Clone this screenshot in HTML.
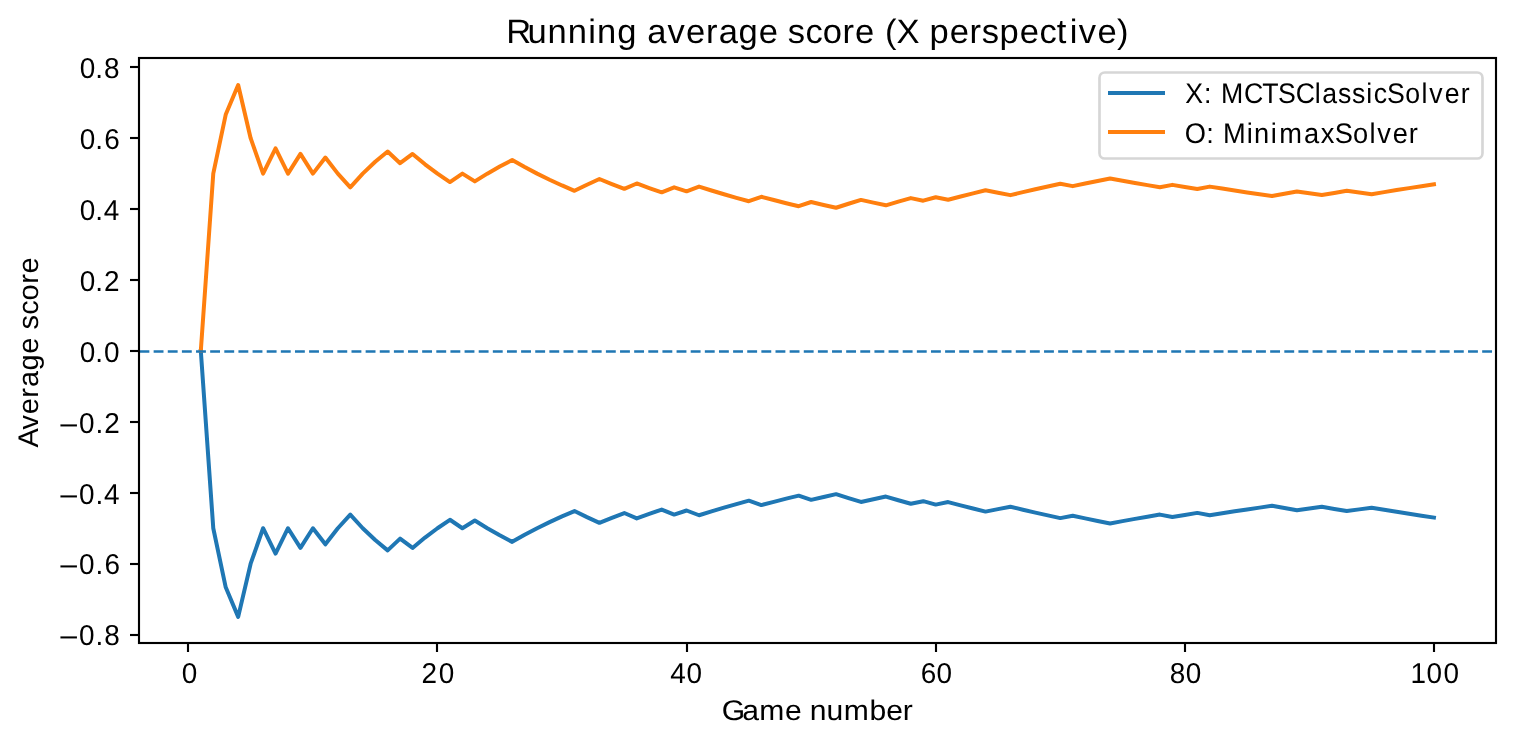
<!DOCTYPE html>
<html lang="en">
<head>
<meta charset="utf-8">
<title>Running average score (X perspective)</title>
<style>
html,body{margin:0;padding:0;background:#ffffff;}
body{position:relative;width:1514px;height:744px;overflow:hidden;font-family:"Liberation Sans",sans-serif;}
svg{display:block;position:absolute;left:0;top:0;will-change:transform;filter:opacity(0.9999);}
text{font-family:"Liberation Sans",sans-serif;fill:#000000;text-rendering:geometricPrecision;}
.spine{fill:none;stroke:#000000;stroke-width:2.13;stroke-linecap:square;stroke-linejoin:miter;}
.tick{stroke:#000000;stroke-width:2.13;fill:none;}
.series{fill:none;stroke-width:4;stroke-linejoin:round;stroke-linecap:square;}
</style>
</head>
<body>
<svg width="1514" height="744" viewBox="0 0 1514 744">
<rect x="0" y="0" width="1514" height="744" fill="#ffffff"/>
<defs><clipPath id="axclip"><rect x="139.16" y="58.40" width="1356.44" height="585.07"/></clipPath></defs>
<g clip-path="url(#axclip)">
<polyline class="series" stroke="#1f77b4" points="200.81,350.93 213.27,528.23 225.73,587.32 238.18,616.87 250.64,563.68 263.09,528.23 275.55,553.55 288.01,528.23 300.46,547.93 312.92,528.23 325.37,544.34 337.83,528.23 350.28,514.59 362.74,528.23 375.20,540.05 387.65,550.39 400.11,538.66 412.56,547.93 425.02,537.56 437.48,528.23 449.93,519.78 462.39,528.23 474.84,520.52 487.30,528.23 499.76,535.32 512.21,541.86 524.67,534.79 537.12,528.23 549.58,522.11 562.03,516.41 574.49,511.07 586.95,517.15 599.40,522.85 611.86,517.80 624.31,513.03 636.77,518.38 649.23,513.85 661.68,509.56 674.14,514.59 686.59,510.50 699.05,515.25 711.50,511.34 723.96,507.61 736.42,504.05 748.87,500.65 761.33,505.10 773.78,501.82 786.24,498.68 798.70,495.66 811.15,499.86 823.61,496.94 836.06,494.13 848.52,498.12 860.97,501.96 873.43,499.21 885.89,496.57 898.34,500.23 910.80,503.77 923.25,501.18 935.71,504.59 948.17,502.07 960.62,505.35 973.08,508.53 985.53,511.61 997.99,509.13 1010.44,506.74 1022.90,509.70 1035.36,512.58 1047.81,515.38 1060.27,518.10 1072.72,515.74 1085.18,518.38 1097.64,520.94 1110.09,523.43 1122.55,521.13 1135.00,518.90 1147.46,516.71 1159.91,514.59 1172.37,517.01 1184.83,514.93 1197.28,512.90 1209.74,515.25 1222.19,513.27 1234.65,511.34 1247.11,509.45 1259.56,507.61 1272.02,505.81 1284.47,508.08 1296.93,510.30 1309.39,508.53 1321.84,506.80 1334.30,508.96 1346.75,511.07 1359.21,509.37 1371.66,507.70 1384.12,509.76 1396.58,511.78 1409.03,513.75 1421.49,515.69 1433.94,517.59"/>
<polyline class="series" stroke="#ff7f0e" points="200.81,350.93 213.27,173.64 225.73,114.54 238.18,84.99 250.64,138.18 263.09,173.64 275.55,148.31 288.01,173.64 300.46,153.94 312.92,173.64 325.37,157.52 337.83,173.64 350.28,187.28 362.74,173.64 375.20,161.82 387.65,151.48 400.11,163.21 412.56,153.94 425.02,164.31 437.48,173.64 449.93,182.08 462.39,173.64 474.84,181.35 487.30,173.64 499.76,166.55 512.21,160.00 524.67,167.07 537.12,173.64 549.58,179.75 562.03,185.46 574.49,190.80 586.95,184.72 599.40,179.01 611.86,184.07 624.31,188.84 636.77,183.49 649.23,188.02 661.68,192.30 674.14,187.28 686.59,191.37 699.05,186.61 711.50,190.53 723.96,194.26 736.42,197.82 748.87,201.22 761.33,196.77 773.78,200.05 786.24,203.19 798.70,206.20 811.15,202.01 823.61,204.93 836.06,207.74 848.52,203.75 860.97,199.91 873.43,202.65 885.89,205.30 898.34,201.63 910.80,198.09 923.25,200.69 935.71,197.28 948.17,199.80 960.62,196.52 973.08,193.34 985.53,190.26 997.99,192.73 1010.44,195.13 1022.90,192.16 1035.36,189.28 1047.81,186.49 1060.27,183.77 1072.72,186.13 1085.18,183.49 1097.64,180.93 1110.09,178.43 1122.55,180.73 1135.00,182.97 1147.46,185.15 1159.91,187.28 1172.37,184.86 1184.83,186.94 1197.28,188.96 1209.74,186.61 1222.19,188.59 1234.65,190.53 1247.11,192.41 1259.56,194.26 1272.02,196.06 1284.47,193.79 1296.93,191.57 1309.39,193.34 1321.84,195.07 1334.30,192.91 1346.75,190.80 1359.21,192.50 1371.66,194.17 1384.12,192.11 1396.58,190.09 1409.03,188.11 1421.49,186.18 1433.94,184.28"/>
<line x1="139.50" y1="351.50" x2="1496.00" y2="351.50" stroke="#1f77b4" stroke-width="2.67" stroke-dasharray="9.8667 4.2667"/>
</g>
<g class="tick">
<line x1="188.00" y1="643.00" x2="188.00" y2="652.00"/>
<line x1="437.00" y1="643.00" x2="437.00" y2="652.00"/>
<line x1="687.00" y1="643.00" x2="687.00" y2="652.00"/>
<line x1="936.00" y1="643.00" x2="936.00" y2="652.00"/>
<line x1="1185.00" y1="643.00" x2="1185.00" y2="652.00"/>
<line x1="1434.00" y1="643.00" x2="1434.00" y2="652.00"/>
<line x1="130.00" y1="67.00" x2="139.00" y2="67.00"/>
<line x1="130.00" y1="138.00" x2="139.00" y2="138.00"/>
<line x1="130.00" y1="209.00" x2="139.00" y2="209.00"/>
<line x1="130.00" y1="280.00" x2="139.00" y2="280.00"/>
<line x1="130.00" y1="351.00" x2="139.00" y2="351.00"/>
<line x1="130.00" y1="422.00" x2="139.00" y2="422.00"/>
<line x1="130.00" y1="493.00" x2="139.00" y2="493.00"/>
<line x1="130.00" y1="564.00" x2="139.00" y2="564.00"/>
<line x1="130.00" y1="635.00" x2="139.00" y2="635.00"/>
</g>
<rect class="spine" x="139.00" y="58.00" width="1357.00" height="585.00"/>
<rect x="1099.50" y="72.50" width="383.00" height="86.00" rx="5.33" ry="5.33" fill="#ffffff" fill-opacity="0.8" stroke="#cccccc" stroke-opacity="0.8" stroke-width="2.67"/>
<line x1="1108.00" y1="93.00" x2="1165.00" y2="93.00" stroke="#1f77b4" stroke-width="4"/>
<line x1="1108.00" y1="132.00" x2="1165.00" y2="132.00" stroke="#ff7f0e" stroke-width="4"/>
<text transform="translate(505.88 43) scale(1.02 1)" font-size="33.9" y="0" x="0.38 21.17 40.85 60.71 80.86 89.26 109.15 128.43 138.51 158.53 176.64 196.08 208.6 228.15 247.96 266.79 276.41 293.64 310.56 329.91 342.32 361.15 371.67 382.97 404.78 415.39 435.09 454.54 466.6 484.02 503.72 523.05 540.2 552.92 561.59 579.94 599.06">Running average score (X perspective)</text>
<text transform="translate(722.5 720) scale(1.06 1)" font-size="28.4" y="0" x="-0.79 18.74 34.57 58.99 74.76 82.35 98.08 114.4 138.61 154.51 170.15">Game number</text>
<text transform="translate(38 447.2) rotate(-90) scale(1.02 1)" font-size="28.4" y="0" x="-0.3 17.29 32.33 48.49 59.02 75.14 91.64 107.23 115.51 129.93 143.88 160.13 170.19">Average score</text>
<text transform="translate(181.25 683) scale(0.97 1)" font-size="28.8" y="0" x="0.43">0</text>
<text transform="translate(421 683) scale(0.97 1)" font-size="28.8" y="0" x="0.43 18.22">20</text>
<text transform="translate(669.75 683) scale(0.97 1)" font-size="28.8" y="0" x="0.65 17.31">40</text>
<text transform="translate(920.12 683) scale(0.97 1)" font-size="28.8" y="0" x="0.72 16.8">60</text>
<text transform="translate(1169.25 683) scale(0.97 1)" font-size="28.8" y="0" x="0.43 16.93">80</text>
<text transform="translate(1410.12 683) scale(0.97 1)" font-size="28.8" y="0" x="0.49 16.8 34.45">100</text>
<text transform="translate(79.25 78) scale(0.97 1)" font-size="28.8" y="0" x="0.43 16.49 25.56">0.8</text>
<text transform="translate(79.25 149) scale(0.97 1)" font-size="28.8" y="0" x="0.43 16.49 25.85">0.6</text>
<text transform="translate(79.25 220) scale(0.97 1)" font-size="28.8" y="0" x="0.43 16.49 25.27">0.4</text>
<text transform="translate(79.25 291) scale(0.97 1)" font-size="28.8" y="0" x="0.43 16.49 25.56">0.2</text>
<text transform="translate(79.25 362) scale(0.97 1)" font-size="28.8" y="0" x="0.43 16.49 25.56">0.0</text>
<text transform="translate(57.17 433) scale(0.97 1)" font-size="28.8" y="0"><tspan x="1.5" dy="1.5" textLength="20.5" lengthAdjust="spacingAndGlyphs">−</tspan><tspan dy="-1.5" x="22.6 39.43 48.5">0.2</tspan></text>
<text transform="translate(57.17 504) scale(0.97 1)" font-size="28.8" y="0"><tspan x="1.5" dy="1.5" textLength="20.5" lengthAdjust="spacingAndGlyphs">−</tspan><tspan dy="-1.5" x="22.6 39.43 48.2">0.4</tspan></text>
<text transform="translate(57.17 574) scale(0.97 1)" font-size="28.8" y="0"><tspan x="1.5" dy="1.5" textLength="20.5" lengthAdjust="spacingAndGlyphs">−</tspan><tspan dy="-1.5" x="22.6 39.43 48.79">0.6</tspan></text>
<text transform="translate(57.17 645) scale(0.97 1)" font-size="28.8" y="0"><tspan x="1.5" dy="1.5" textLength="20.5" lengthAdjust="spacingAndGlyphs">−</tspan><tspan dy="-1.5" x="22.6 39.43 48.5">0.8</tspan></text>
<text transform="translate(1185.2 103) scale(0.94 1)" font-size="28.4" y="0" x="-0.08 19.99 28.99 38.17 62.5 81.96 98.71 117.56 137.86 145.75 162.5 177.53 192.53 200.52 214.8 234.19 251.29 259.66 276.04 293.1">X: MCTSClassicSolver</text>
<text transform="translate(1185.5 143) scale(0.96 1)" font-size="28.4" y="0" x="-0.88 21.58 30.73 38.95 63.71 71.31 88.84 97.6 123.53 140.89 155.44 174.46 191.56 199.68 215.96 232.45">O: MinimaxSolver</text>
</svg>
</body>
</html>
